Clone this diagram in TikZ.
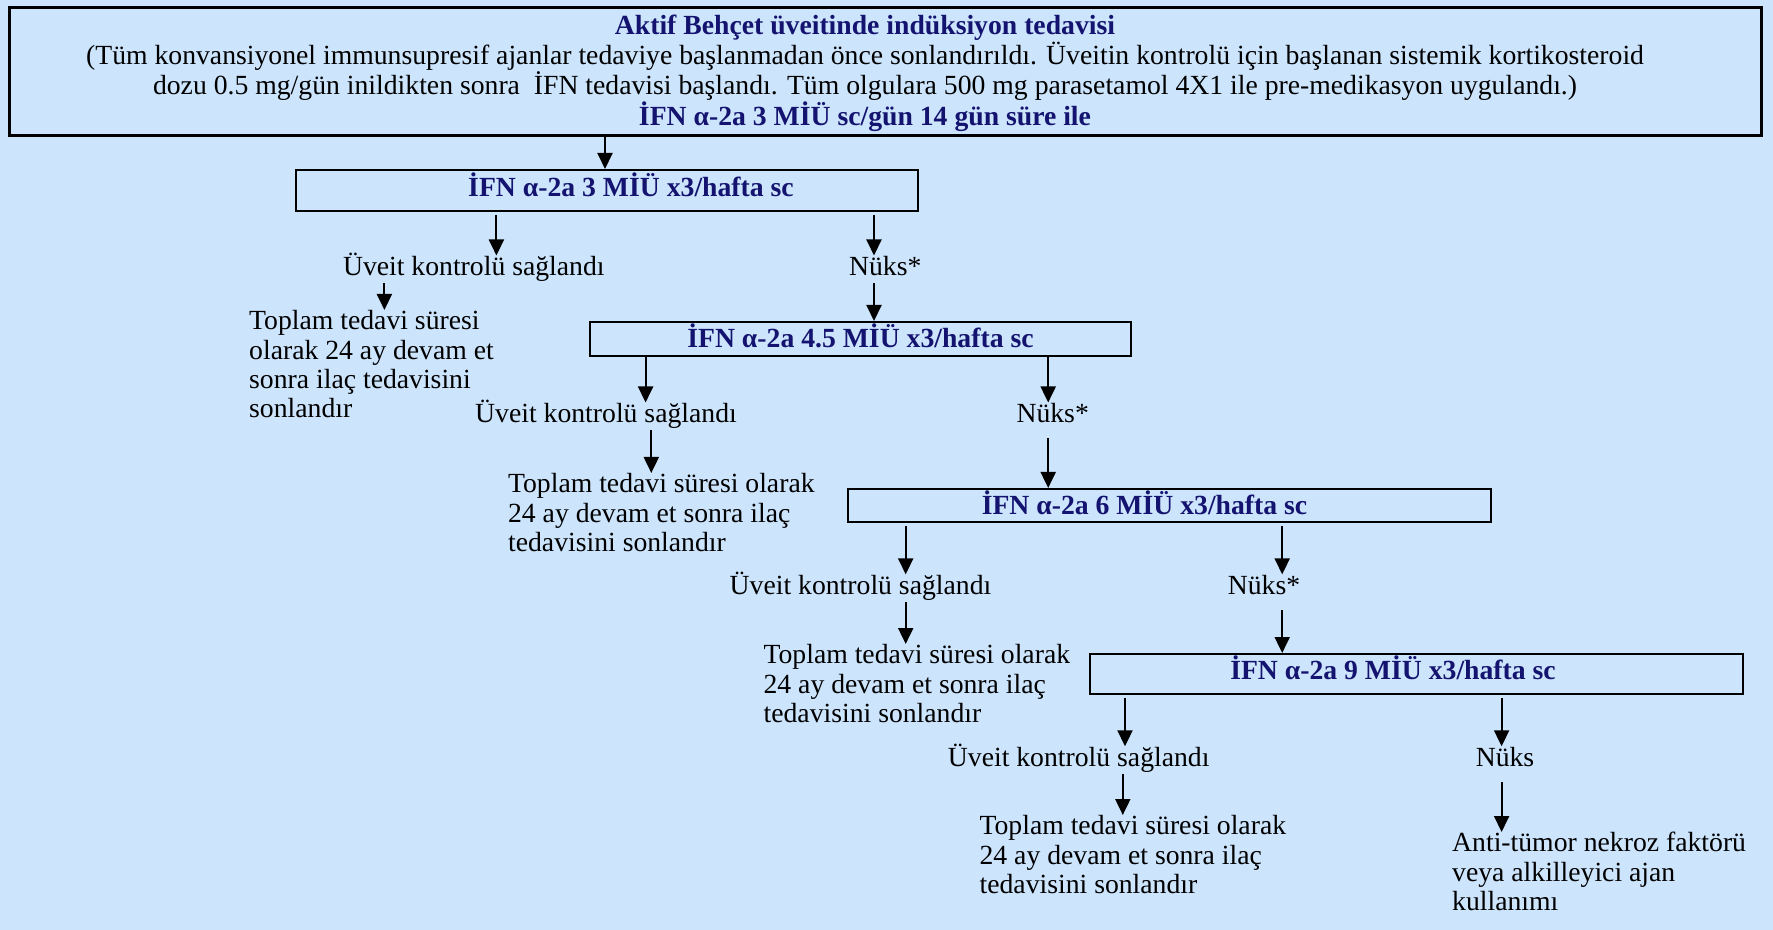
\documentclass[tikz,border=0pt]{standalone}
\usepackage{fontspec}
\setmainfont{Liberation Serif}
\usepackage{xcolor}
\usepackage{tikz}
\usetikzlibrary{arrows.meta,positioning}

\definecolor{zemin}{RGB}{204,228,252}
\definecolor{lacivert}{RGB}{20,20,112}

\tikzset{
  kutu/.style={draw, rectangle, line width=1pt, inner sep=0pt},
  kutuyazi/.style={font=\fontsize{13.85pt}{15pt}\selectfont\bfseries, text=lacivert, inner sep=0pt, yshift=1.5pt},
  etiket/.style={font=\fontsize{13.85pt}{14.7pt}\selectfont, inner sep=0pt, text height=10pt, text depth=3.5pt, anchor=north},
  notyazi/.style={font=\fontsize{13.85pt}{14.7pt}\selectfont, align=left, inner sep=0pt, anchor=north west},
  ok/.style={line width=1pt, -{Triangle[length=8pt,width=7.5pt]}}
}

\begin{document}
\begin{tikzpicture}[x=0.5pt,y=-0.5pt]
	% Zemin
	\fill[zemin] (0,0) rectangle (1773,930);
	\useasboundingbox (0,0) rectangle (1773,930);

	% İndüksiyon tedavisi
	\node[kutu, line width=1.5pt, minimum width=876pt, minimum height=64pt,
		label={[font=\fontsize{13.85pt}{15.2pt}\selectfont, align=center, inner sep=0pt, xshift=-10pt, yshift=-0.5pt]center:{{\color{lacivert}\bfseries Aktif Behçet üveitinde indüksiyon tedavisi}\\
		(Tüm konvansiyonel immunsupresif ajanlar tedaviye başlanmadan önce sonlandırıldı. Üveitin kontrolü için başlanan sistemik kortikosteroid\\
		dozu 0.5 mg/gün inildikten sonra \ İFN tedavisi başlandı. Tüm olgulara 500 mg parasetamol 4X1 ile pre-medikasyon uygulandı.)\\
		{\color{lacivert}\bfseries İFN α-2a 3 MİÜ sc/gün 14 gün süre ile}}}] (ind) at (885,72) {};

	% Doz kutuları
	\node[kutu, minimum width=311pt, minimum height=20.5pt,
		label={[kutuyazi, xshift=12pt, yshift=1.5pt]center:{İFN α-2a 3 MİÜ x3/hafta sc}}] (d1) at (607,190.5) {};
	\node[kutu, minimum width=270.5pt, minimum height=17pt,
		label={[kutuyazi]center:{İFN α-2a 4.5 MİÜ x3/hafta sc}}] (d2) at (860.5,339) {};
	\node[kutu, minimum width=321.5pt, minimum height=16.5pt,
		label={[kutuyazi, xshift=-12.5pt]center:{İFN α-2a 6 MİÜ x3/hafta sc}}] (d3) at (1169.5,505.5) {};
	\node[kutu, minimum width=326.5pt, minimum height=20pt,
		label={[kutuyazi, xshift=-11.75pt, yshift=1.5pt]center:{İFN α-2a 9 MİÜ x3/hafta sc}}] (d4) at (1416.5,674) {};

	% Sonuçlar
	\node[etiket] (u1) at (473.8,255.5) {Üveit kontrolü sağlandı};
	\node[etiket] (n1) at (885.3,255.5) {Nüks*};
	\node[etiket] (u2) at (606,402.5) {Üveit kontrolü sağlandı};
	\node[etiket] (n2) at (1052.7,402.5) {Nüks*};
	\node[etiket] (u3) at (860.5,574.4) {Üveit kontrolü sağlandı};
	\node[etiket] (n3) at (1264,574.4) {Nüks*};
	\node[etiket] (u4) at (1078.7,746.3) {Üveit kontrolü sağlandı};
	\node[etiket] (n4) at (1505,746.3) {Nüks};

	% Notlar
	\node[notyazi] (t1) at (248.8,310) {Toplam tedavi süresi\\olarak 24 ay devam et\\sonra ilaç tedavisini\\sonlandır};
	\node[notyazi] (t2) at (507.7,473) {Toplam tedavi süresi olarak\\24 ay devam et sonra ilaç\\tedavisini sonlandır};
	\node[notyazi] (t3) at (763.2,644) {Toplam tedavi süresi olarak\\24 ay devam et sonra ilaç\\tedavisini sonlandır};
	\node[notyazi] (t4) at (979.2,815) {Toplam tedavi süresi olarak\\24 ay devam et sonra ilaç\\tedavisini sonlandır};
	\node[notyazi] (t5) at (1451.8,832) {Anti-tümor nekroz faktörü\\veya alkilleyici ajan\\kullanımı};

	% Oklar
	\draw[ok] (ind.south -| 605,0) -- (d1.north -| 605,0);
	\draw[ok, shorten <=1.5pt] (d1.south -| 496.4,0) -- (u1.north -| 496.4,0);
	\draw[ok, shorten <=1.5pt] (d1.south -| 874,0) -- (n1.north -| 874,0);
	\draw[ok] (u1.south -| 384.4,0) -- (t1.north -| 384.4,0);
	\draw[ok] (n1.south -| 874,0) -- (d2.north -| 874,0);
	\draw[ok] (d2.south -| 645.6,0) -- (u2.north -| 645.6,0);
	\draw[ok] (d2.south -| 1048.2,0) -- (n2.north -| 1048.2,0);
	\draw[ok] (u2.south -| 651.3,0) -- (t2.north -| 651.3,0);
	\draw[ok, shorten <=4pt] (n2.south -| 1048.2,0) -- (d3.north -| 1048.2,0);
	\draw[ok, shorten <=1.5pt] (d3.south -| 905.7,0) -- (u3.north -| 905.7,0);
	\draw[ok, shorten <=1.5pt] (d3.south -| 1282.2,0) -- (n3.north -| 1282.2,0);
	\draw[ok] (u3.south -| 905.7,0) -- (t3.north -| 905.7,0);
	\draw[ok, shorten <=4pt] (n3.south -| 1282.2,0) -- (d4.north -| 1282.2,0);
	\draw[ok, shorten <=1.5pt] (d4.south -| 1125,0) -- (u4.north -| 1125,0);
	\draw[ok, shorten <=1.5pt] (d4.south -| 1501.6,0) -- (n4.north -| 1501.6,0);
	\draw[ok] (u4.south -| 1122.8,0) -- (t4.north -| 1122.8,0);
	\draw[ok, shorten <=4pt] (n4.south -| 1501.6,0) -- (t5.north -| 1501.6,0);
\end{tikzpicture}
\end{document}
